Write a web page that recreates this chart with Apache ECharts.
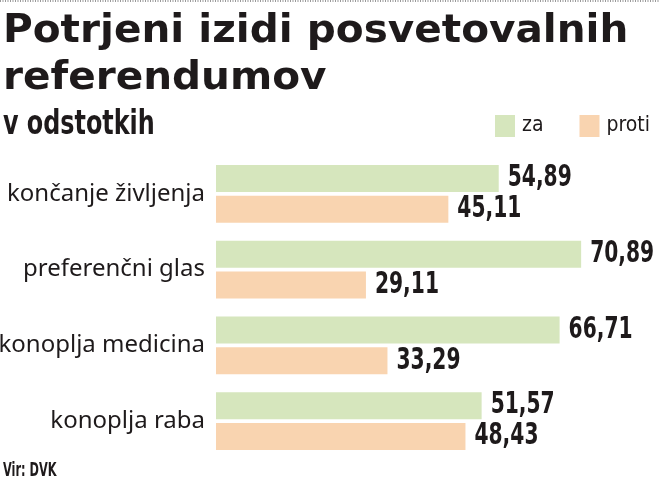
<!DOCTYPE html>
<html><head><meta charset="utf-8">
<script src="https://cdn.jsdelivr.net/npm/echarts@6/dist/echarts.min.js"></script>
<style>html,body{margin:0;padding:0;background:#fff}#c{width:660px;height:487px}</style>
</head><body><div id="c"></div>
<script>
var categories = ['končanje življenja', 'preferenčni glas', 'konoplja medicina', 'konoplja raba'];
var zaValues = [54.89, 70.89, 66.71, 51.57];
var protiValues = [45.11, 29.11, 33.29, 48.43];
var seriesNames = ['za', 'proti'];
var titleLines = ['Potrjeni izidi posvetovalnih', 'referendumov'];
var subtitleText = 'v odstotkih';
var sourceText = 'Vir: DVK';

var chart = echarts.init(document.getElementById('c'));
var ink = '#1e1a1b';
var BAR_W = 27, BAR_OFF = 15.5;

function labelSeries(values, off) {
  return {
    type: 'custom', silent: true, z: 5,
    data: values.map(function (v, i) { return [v, i]; }),
    renderItem: function (params, api) {
      var p = api.coord([api.value(0), api.value(1)]);
      return {
        type: 'text', x: p[0] + 9, y: p[1] + off, scaleX: 0.75,
        style: {
          text: api.value(0).toFixed(2).replace('.', ','),
          font: 'bold 30px "DejaVu Sans Condensed"', fill: ink,
          verticalAlign: 'middle', align: 'left'
        }
      };
    }
  };
}

chart.setOption({
  animation: false,
  graphic: [
    { type: 'line', shape: { x1: 0, y1: 1, x2: 660, y2: 1 },
      style: { stroke: '#777', lineWidth: 1.5, lineDash: [1, 1.5] } },
    { type: 'text', x: 3, y: 32, scaleX: 1.04, style: { text: titleLines[0], font: 'bold 39px "DejaVu Sans"', fill: ink, verticalAlign: 'middle' } },
    { type: 'text', x: 3, y: 79, scaleX: 1.04, style: { text: titleLines[1], font: 'bold 39px "DejaVu Sans"', fill: ink, verticalAlign: 'middle' } },
    { type: 'text', x: 3, y: 125, scaleX: 0.78, style: { text: subtitleText, font: 'bold 34px "DejaVu Sans Condensed"', fill: ink, verticalAlign: 'middle' } },
    { type: 'text', x: 3, y: 471, scaleX: 0.63, style: { text: sourceText, font: 'bold 20px "DejaVu Sans Condensed"', fill: ink, verticalAlign: 'middle' } }
  ],
  legend: {
    data: seriesNames, left: 495, top: 115, itemWidth: 20, itemHeight: 22, itemGap: 36,
    icon: 'rect', padding: 0,
    textStyle: { fontFamily: 'DejaVu Sans Condensed', fontSize: 21, color: ink, padding: [0, 0, 0, 2] }
  },
  grid: { left: 216, top: 156, width: 444, height: 303, containLabel: false, outerBoundsMode: 'none' },
  xAxis: { type: 'value', min: 0, max: 86.2, show: false },
  yAxis: {
    type: 'category', data: categories, inverse: true,
    axisLine: { show: false }, axisTick: { show: false },
    axisLabel: { margin: 11, fontFamily: 'Noto Sans', fontSize: 24, color: ink }
  },
  series: [
    { name: seriesNames[0], type: 'bar', data: zaValues, barWidth: BAR_W, barGap: '14%',
      itemStyle: { color: '#d6e6bd' } },
    { name: seriesNames[1], type: 'bar', data: protiValues, barWidth: BAR_W,
      itemStyle: { color: '#f9d4b0' } },
    labelSeries(zaValues, -BAR_OFF),
    labelSeries(protiValues, BAR_OFF)
  ]
});
</script></body></html>
